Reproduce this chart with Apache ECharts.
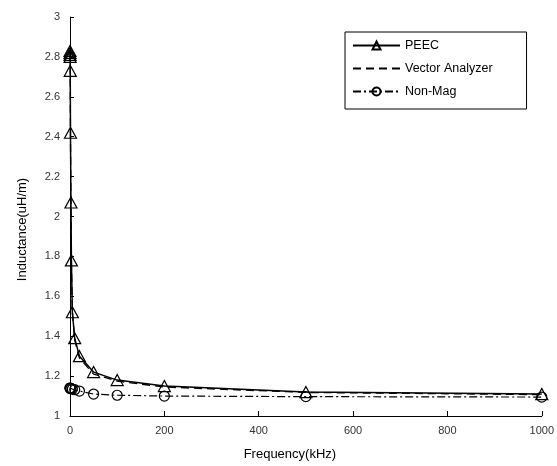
<!DOCTYPE html>
<html>
<head>
<meta charset="utf-8">
<script src="https://cdn.jsdelivr.net/npm/echarts@6/dist/echarts.min.js"></script>
<style>
html,body{margin:0;padding:0;background:#fff;}
#c{width:557px;height:466px;}
</style>
</head>
<body>
<div id="c"></div>
<script>
const peecFreq = [0.01, 0.05, 0.1, 0.2, 0.5, 1, 2, 3, 5, 10, 20, 50, 100, 200, 500, 1000];
const peecVal  = [2.83, 2.82, 2.81, 2.80, 2.73, 2.42, 2.07, 1.78, 1.52, 1.39, 1.30, 1.22, 1.18, 1.15, 1.12, 1.11];
const vaFreq = [0.01, 0.5, 1, 2, 3, 5, 10, 20, 50, 100, 200, 500, 1000];
const vaVal  = [2.82, 2.72, 2.40, 2.05, 1.76, 1.52, 1.38, 1.29, 1.21, 1.175, 1.145, 1.118, 1.107];
const nmFreq = [0.01, 0.1, 0.5, 1, 2, 5, 10, 20, 50, 100, 200, 500, 1000];
const nmVal  = [1.14, 1.14, 1.139, 1.138, 1.137, 1.135, 1.132, 1.125, 1.11, 1.104, 1.10, 1.097, 1.095];
const xTicks = {min: 0, max: 1000, interval: 200};
const yTicks = {min: 1, max: 3, interval: 0.2};

const pair = (xs, ys) => xs.map((x, i) => [x, ys[i]]);
const font = 'Liberation Sans, Arial, sans-serif';

const chart = echarts.init(document.getElementById('c'), null, {renderer: 'canvas'});
chart.setOption({
  animation: false,
  backgroundColor: '#fff',
  grid: {left: 70, right: 11, top: 17, bottom: 49, containLabel: false},
  legend: {
    orient: 'vertical',
    left: 345, top: 32,
    padding: [7, 34, 11, 7],
    borderColor: '#000', borderWidth: 1,
    itemWidth: 47, itemHeight: 10, itemGap: 10,
    textStyle: {fontFamily: font, fontSize: 12.5, color: '#000'},
    data: [
      {name: 'PEEC'},
      {name: 'Vector Analyzer', itemStyle: {opacity: 0}},
      {name: 'Non-Mag'}
    ]
  },
  xAxis: {
    type: 'value', min: xTicks.min, max: xTicks.max, interval: xTicks.interval,
    name: 'Frequency(kHz)', nameLocation: 'middle', nameGap: 32,
    nameTextStyle: {fontFamily: font, fontSize: 13, color: '#000', padding: [0, 32, 0, 0]},
    axisLine: {lineStyle: {color: '#000', width: 1}},
    axisTick: {inside: true, length: 5, lineStyle: {color: '#000'}},
    axisLabel: {fontFamily: font, fontSize: 11, color: '#333', margin: 9,
      formatter: v => String(v)},
    splitLine: {show: false}
  },
  yAxis: {
    type: 'value', min: yTicks.min, max: yTicks.max, interval: yTicks.interval,
    name: 'Inductance(uH/m)', nameLocation: 'middle', nameGap: 41,
    nameTextStyle: {fontFamily: font, fontSize: 13, color: '#000', padding: [0, 26, 0, 0]},
    axisLine: {lineStyle: {color: '#000', width: 1}},
    axisTick: {inside: true, length: 4, lineStyle: {color: '#000'}},
    axisLabel: {fontFamily: font, fontSize: 11, color: '#333', margin: 10},
    splitLine: {show: false}
  },
  series: [
    {
      name: 'PEEC', type: 'line', data: pair(peecFreq, peecVal),
      symbol: 'triangle', symbolSize: [12, 11],
      itemStyle: {color: 'rgba(255,255,255,0)', borderColor: '#000', borderWidth: 1.2},
      lineStyle: {color: '#000', width: 1.5, type: 'solid'},
      z: 3
    },
    {
      name: 'Vector Analyzer', type: 'line', data: pair(vaFreq, vaVal),
      showSymbol: false, symbol: 'none',
      itemStyle: {color: '#000'},
      lineStyle: {color: '#000', width: 1.3, type: [8, 5]},
      z: 2
    },
    {
      name: 'Non-Mag', type: 'line', data: pair(nmFreq, nmVal),
      symbol: 'circle', symbolSize: 10,
      itemStyle: {color: 'rgba(255,255,255,0)', borderColor: '#000', borderWidth: 1.2},
      lineStyle: {color: '#000', width: 1.2, type: [8, 3, 2, 3]},
      z: 2
    }
  ]
});
</script>
</body>
</html>
